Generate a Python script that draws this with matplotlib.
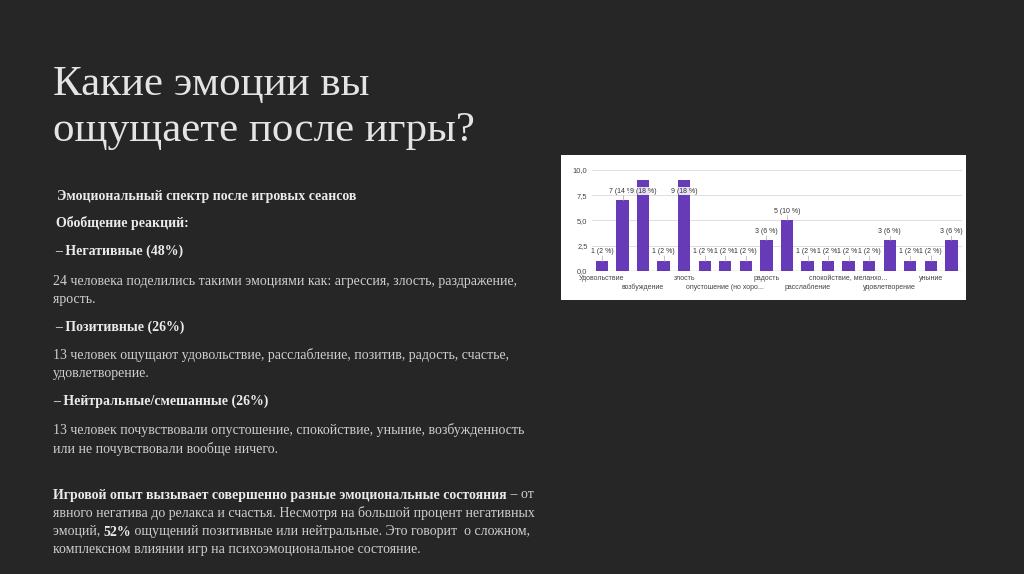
import matplotlib.pyplot as plt
from matplotlib.patches import Rectangle

# данные диаграммы (ответы 50 человек)
values = [1, 7, 9, 1, 9, 1, 1, 1, 3, 5, 1, 1, 1, 1, 3, 1, 1, 3]
categories = ["Удовольствие", "", "возбуждение", "", "злость", "",
              "опустошение (но хоро...", "", "радость", "", "расслабление", "",
              "спокойствие, меланхо...", "", "удовлетворение", "", "уныние", ""]
y_ticks = [0, 2.5, 5, 7.5, 10]
y_tick_labels = ["0,0", "2,5", "5,0", "7,5", "10,0"]
total = sum(values)

title_lines = ["Какие эмоции вы", "ощущаете после игры?"]

# строки текста: (y в пикселях, [(текст, жирный), ...], x в пикселях)
body = [
    (196, [("Эмоциональный спектр после игровых сеансов", True)], 57),
    (223, [("Обобщение реакций:", True)], 56),
    (251, [("– Негативные (48%)", True)], 55),
    (282, [("24 человека поделились такими эмоциями как: агрессия, злость, раздражение,", False)], 53),
    (299, [("ярость.", False)], 53),
    (327, [("– Позитивные (26%)", True)], 55),
    (355, [("13 человек ощущают удовольствие, расслабление, позитив, радость, счастье,", False)], 53),
    (374, [("удовлетворение.", False)], 53),
    (401, [("– Нейтральные/смешанные (26%)", True)], 53),
    (430, [("13 человек почувствовали опустошение, спокойствие, уныние, возбужденность", False)], 53),
    (449, [("или не почувствовали вообще ничего.", False)], 53),
    (495, [("Игровой опыт вызывает совершенно разные эмоциональные состояния", True), (" – от", False)], 53),
    (513, [("явного негатива до релакса и счастья. Несмотря на большой процент негативных", False)], 53),
    (532, [("эмоций, ", False), ("52%", True), (" ощущений позитивные или нейтральные. Это говорит  о сложном,", False)], 53),
    (550, [("комплексном влиянии игр на психоэмоциональное состояние.", False)], 53),
]

W, H = 1024, 574
fig = plt.figure(figsize=(W / 100, H / 100), dpi=100, facecolor="#262626")
renderer = fig.canvas.get_renderer()

# заголовок
for i, line in enumerate(title_lines):
    fig.text(53 / W, 1 - (95 + i * 46) / H, line, fontsize=31, family="Liberation Serif",
             color="#e4e4e4", va="baseline")

# текст слева
for y, parts, x0 in body:
    x = x0 / W
    for txt, bold in parts:
        t = fig.text(x, 1 - y / H, txt, fontsize=10, family="Liberation Serif",
                     fontweight="bold" if bold else "normal",
                     color="#ebebeb" if bold else "#cfcfcf", va="center")
        x = t.get_window_extent(renderer).x1 / W

# белая подложка диаграммы
fig.patches.append(Rectangle((561 / W, 1 - 300 / H), 405 / W, 145 / H, zorder=-1,
                             transform=fig.transFigure, facecolor="white", edgecolor="none"))

ax = fig.add_axes([591.7 / W, 1 - 270.7 / H, 370 / W, 100.7 / H])
ax.set_facecolor("white")
x = list(range(len(values)))
ax.bar(x, values, width=0.6, color="#673ab7", zorder=3)
ax.set_xlim(-0.5, len(values) - 0.5)
ax.set_ylim(0, 10)
ax.set_yticks(y_ticks)
ax.set_yticklabels(y_tick_labels, fontsize=5.4, color="#444444", family="Liberation Sans")
ax.yaxis.grid(True, color="#d9d9d9", linewidth=0.6, zorder=0)
ax.axhline(0, color="#333333", linewidth=0.8, zorder=4)
for s in ax.spines.values():
    s.set_visible(False)
ax.tick_params(length=0, pad=3)
ax.set_xticks([])

for i, v in enumerate(values):
    ly = min(v + 0.9, 7.9)
    if ly > v:
        ax.plot([i, i], [v, v + 0.55], color="#aaaaaa", linewidth=0.5, zorder=4)
    ax.text(i, ly, f"{v} ({round(v / total * 100)} %)", ha="center", va="center",
            fontsize=5, color="#333333", family="Liberation Sans", zorder=5,
            bbox=dict(boxstyle="square,pad=0.1", facecolor="white", edgecolor="none", alpha=0.85))

for i, name in enumerate(categories):
    if name:
        row = (i // 2) % 2
        ax.annotate(name, (i, 0), xytext=(0, -8.3 - row * 8.7), textcoords="offset pixels",
                    ha="center", va="center", fontsize=5, color="#444444",
                    family="Liberation Sans", annotation_clip=False)

fig.savefig("out.png", dpi=100, facecolor=fig.get_facecolor())
